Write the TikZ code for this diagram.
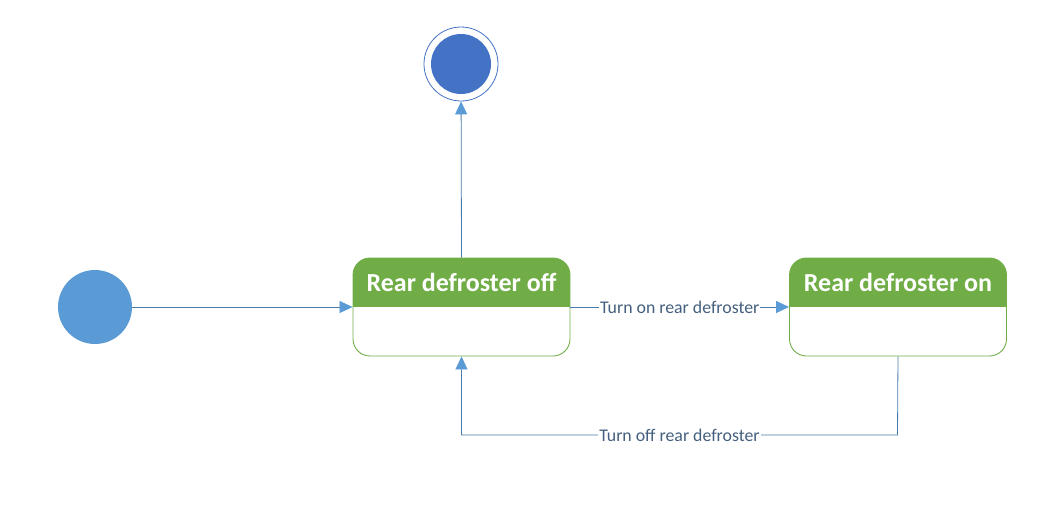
\documentclass[tikz,border=0pt]{standalone}
\usepackage{fontspec}
\setmainfont{Carlito}
\usetikzlibrary{arrows.meta}
\definecolor{stgreen}{HTML}{70AD47}
\definecolor{initblue}{HTML}{5B9BD5}
\definecolor{finalblue}{HTML}{4472C4}
\definecolor{lblblue}{HTML}{44607E}
\tikzset{>={Triangle[length=13pt,width=12pt,color=initblue]}}
\tikzset{
  state/.style={draw=stgreen, line width=0.9pt, rounded corners=17pt, minimum width=217pt, minimum height=98pt,
    path picture={\fill[stgreen, sharp corners] (path picture bounding box.north west) rectangle ([yshift=-49pt]path picture bounding box.north east);}},
  statetitle/.style={text=white, font=\fontsize{26}{30}\selectfont\bfseries},
  flow/.style={draw=initblue!80!black, line width=0.8pt, ->},
  trans/.style={fill=white, text=lblblue, inner sep=1pt, font=\fontsize{17.8}{21}\selectfont}
}
\begin{document}
\begin{tikzpicture}[x=1pt, y=-1pt]
      \useasboundingbox (0, 0) rectangle (1061, 517);
      \node[circle, fill=initblue, minimum size=74pt, inner sep=0pt] (init) at (95, 307) {};
      \node[circle, draw=finalblue, line width=0.8pt, minimum size=74pt, inner sep=0pt] (final) at (461, 64) {};
      \fill[finalblue] (final.center) circle (30pt);
      \node[state] (off) at (461.5, 307) {};
      \node[statetitle] (offtitle) at ([yshift=-24.5pt]off.north) {Rear defroster off};
      \node[state] (on) at (898, 307) {};
      \node[statetitle] (ontitle) at ([yshift=-24.5pt]on.north) {Rear defroster on};
      \coordinate (back) at (897.5, 435);
      \draw[flow] (init) -- (off.west);
      \draw[flow] (off.north) -- (final);
      \draw[flow] (off.east) -- node[trans] {Turn on rear defroster} (on.west);
      \draw[flow] (on.south) -- (back) -| node[trans, pos=.25] {Turn off rear defroster} (off.south);
    \end{tikzpicture}
\end{document}
